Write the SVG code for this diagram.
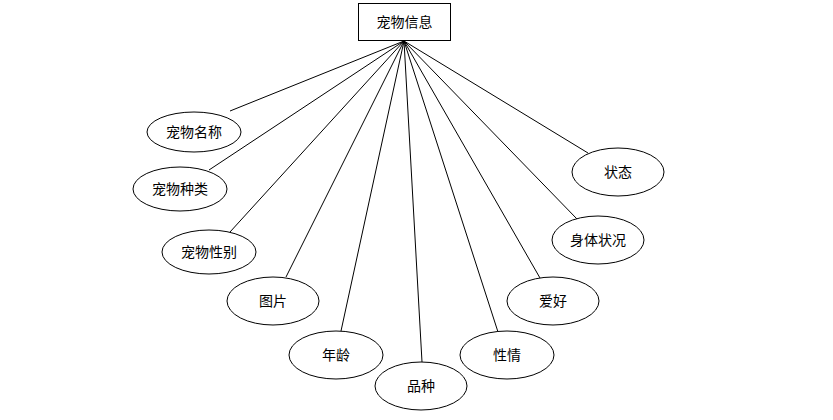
<svg xmlns="http://www.w3.org/2000/svg" width="833" height="420" viewBox="0 0 833 420">
<style>
.n{fill:#fff;stroke:#000;stroke-width:1}
.t{font-family:"Liberation Sans","Noto Sans CJK SC",sans-serif;font-size:14px;fill:#000;text-anchor:middle;dominant-baseline:central}
.c line{stroke:#000;stroke-width:1}
</style>
<rect width="833" height="420" fill="#fff"/>
<g id="connectors" class="c">
<line x1="404" y1="41" x2="230" y2="111"/>
<line x1="404" y1="41" x2="209" y2="170"/>
<line x1="404" y1="41" x2="230" y2="232"/>
<line x1="404" y1="41" x2="286" y2="277"/>
<line x1="404" y1="41" x2="341" y2="331"/>
<line x1="404" y1="41" x2="422" y2="362"/>
<line x1="404" y1="41" x2="498" y2="332"/>
<line x1="404" y1="41" x2="540" y2="278"/>
<line x1="404" y1="41" x2="577" y2="219"/>
<line x1="404" y1="41" x2="588" y2="153"/>
</g>
<g id="pet"><rect class="n" x="358.5" y="3.5" width="92" height="37"/><text class="t" x="404.5" y="22">宠物信息</text></g>
<g id="name"><ellipse class="n" cx="194" cy="132" rx="47" ry="20"/><text class="t" x="194" y="132">宠物名称</text></g>
<g id="kind"><ellipse class="n" cx="180" cy="189" rx="47" ry="22"/><text class="t" x="180" y="189">宠物种类</text></g>
<g id="sex"><ellipse class="n" cx="209" cy="252" rx="47" ry="22"/><text class="t" x="209" y="252">宠物性别</text></g>
<g id="pic"><ellipse class="n" cx="273" cy="301" rx="46" ry="24"/><text class="t" x="273" y="301">图片</text></g>
<g id="age"><ellipse class="n" cx="336" cy="355" rx="47" ry="24"/><text class="t" x="336" y="355">年龄</text></g>
<g id="breed"><ellipse class="n" cx="421" cy="386" rx="46" ry="24"/><text class="t" x="421" y="386">品种</text></g>
<g id="temper"><ellipse class="n" cx="507" cy="355" rx="47" ry="24"/><text class="t" x="507" y="355">性情</text></g>
<g id="hobby"><ellipse class="n" cx="553" cy="301" rx="46" ry="24"/><text class="t" x="553" y="301">爱好</text></g>
<g id="health"><ellipse class="n" cx="598" cy="240" rx="46" ry="24"/><text class="t" x="598" y="240">身体状况</text></g>
<g id="status"><ellipse class="n" cx="618" cy="172" rx="46" ry="24"/><text class="t" x="618" y="172">状态</text></g>
</svg>
